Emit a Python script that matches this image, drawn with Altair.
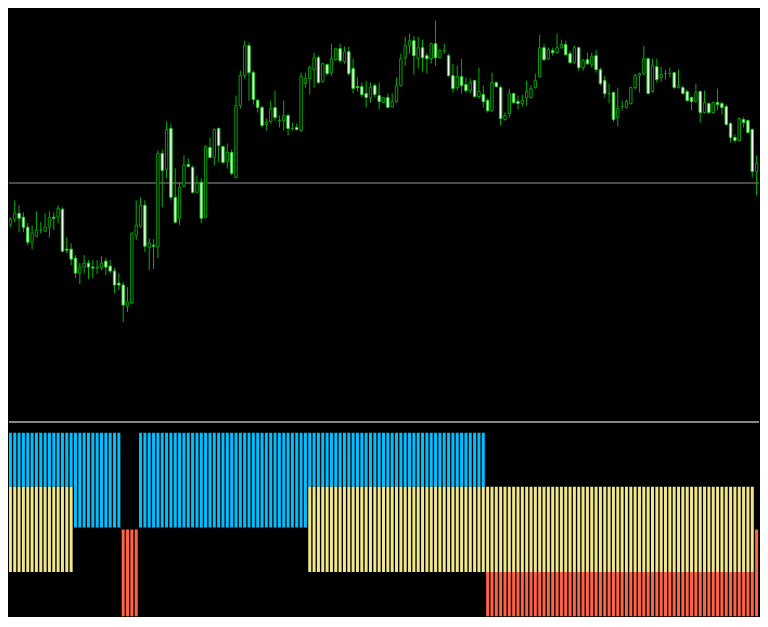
import altair as alt
import pandas as pd

# ---------------- price candles (one entry per bar) ----------------
OPEN = [1.0753, 1.0770, 1.0776, 1.0781, 1.0787, 1.0783, 1.0773, 1.0758, 1.0764, 1.0770,
        1.0769, 1.0773, 1.0783, 1.0783, 1.0791, 1.0751, 1.0751, 1.0742, 1.0727, 1.0733,
        1.0737, 1.0733, 1.0732, 1.0732, 1.0739, 1.0734, 1.0729, 1.0717, 1.0715, 1.0694,
        1.0697, 1.0765, 1.0774, 1.0795, 1.0753, 1.0755, 1.0753, 1.0847, 1.0831, 1.0872,
        1.0803, 1.0782, 1.0814, 1.0836, 1.0833, 1.0808, 1.0818, 1.0783, 1.0853, 1.0843,
        1.0872, 1.0854, 1.0839, 1.0848, 1.0823, 1.0895, 1.0925, 1.0955, 1.0928, 1.0900,
        1.0893, 1.0876, 1.0879, 1.0893, 1.0880, 1.0880, 1.0885, 1.0872, 1.0873, 1.0870,
        1.0917, 1.0922, 1.0931, 1.0943, 1.0919, 1.0936, 1.0928, 1.0941, 1.0952, 1.0939,
        1.0949, 1.0932, 1.0914, 1.0914, 1.0907, 1.0903, 1.0915, 1.0905, 1.0898, 1.0903,
        1.0894, 1.0899, 1.0915, 1.0943, 1.0955, 1.0960, 1.0942, 1.0953, 1.0945, 1.0942,
        1.0957, 1.0943, 1.0950, 1.0945, 1.0925, 1.0913, 1.0924, 1.0916, 1.0910, 1.0920,
        1.0904, 1.0906, 1.0900, 1.0890, 1.0918, 1.0913, 1.0881, 1.0887, 1.0907, 1.0899,
        1.0897, 1.0903, 1.0903, 1.0913, 1.0924, 1.0953, 1.0942, 1.0950, 1.0948, 1.0953,
        1.0956, 1.0947, 1.0938, 1.0953, 1.0933, 1.0941, 1.0936, 1.0945, 1.0931, 1.0920,
        1.0907, 1.0908, 1.0883, 1.0894, 1.0893, 1.0897, 1.0913, 1.0925, 1.0927, 1.0942,
        1.0909, 1.0934, 1.0923, 1.0927, 1.0927, 1.0928, 1.0913, 1.0913, 1.0909, 1.0903,
        1.0899, 1.0909, 1.0888, 1.0897, 1.0888, 1.0898, 1.0897, 1.0894, 1.0877, 1.0863,
        1.0860, 1.0881, 1.0880, 1.0871, 1.0829, 1.0837, 1.0808]
HIGH = [1.0774, 1.0782, 1.0783, 1.0800, 1.0795, 1.0788, 1.0777, 1.0775, 1.0789, 1.0778,
        1.0787, 1.0789, 1.0788, 1.0795, 1.0793, 1.0763, 1.0757, 1.0745, 1.0737, 1.0745,
        1.0740, 1.0740, 1.0740, 1.0744, 1.0742, 1.0740, 1.0732, 1.0727, 1.0718, 1.0713,
        1.0768, 1.0800, 1.0803, 1.0800, 1.0762, 1.0761, 1.0850, 1.0851, 1.0879, 1.0877,
        1.0832, 1.0818, 1.0845, 1.0842, 1.0835, 1.0825, 1.0822, 1.0855, 1.0863, 1.0872,
        1.0873, 1.0855, 1.0857, 1.0851, 1.0905, 1.0930, 1.0960, 1.0958, 1.0930, 1.0902,
        1.0895, 1.0882, 1.0900, 1.0910, 1.0885, 1.0900, 1.0887, 1.0878, 1.0877, 1.0928,
        1.0928, 1.0935, 1.0948, 1.0945, 1.0938, 1.0937, 1.0957, 1.0953, 1.0957, 1.0954,
        1.0954, 1.0942, 1.0923, 1.0918, 1.0920, 1.0918, 1.0917, 1.0918, 1.0903, 1.0907,
        1.0907, 1.0923, 1.0947, 1.0964, 1.0967, 1.0965, 1.0964, 1.0961, 1.0948, 1.0958,
        1.0980, 1.0952, 1.0957, 1.0947, 1.0937, 1.0935, 1.0942, 1.0923, 1.0922, 1.0921,
        1.0933, 1.0915, 1.0902, 1.0928, 1.0919, 1.0915, 1.0888, 1.0912, 1.0908, 1.0905,
        1.0906, 1.0920, 1.0915, 1.0927, 1.0966, 1.0957, 1.0953, 1.0953, 1.0967, 1.0961,
        1.0960, 1.0950, 1.0955, 1.0954, 1.0942, 1.0948, 1.0948, 1.0951, 1.0933, 1.0925,
        1.0917, 1.0909, 1.0913, 1.0900, 1.0901, 1.0914, 1.0927, 1.0928, 1.0955, 1.0943,
        1.0942, 1.0942, 1.0934, 1.0931, 1.0933, 1.0929, 1.0931, 1.0915, 1.0911, 1.0904,
        1.0917, 1.0910, 1.0910, 1.0898, 1.0899, 1.0912, 1.0899, 1.0896, 1.0878, 1.0866,
        1.0883, 1.0883, 1.0881, 1.0872, 1.0845, 1.0838, 1.0820]
LOW = [1.0750, 1.0767, 1.0773, 1.0778, 1.0768, 1.0768, 1.0755, 1.0751, 1.0763, 1.0767,
       1.0768, 1.0763, 1.0770, 1.0777, 1.0748, 1.0747, 1.0735, 1.0722, 1.0716, 1.0727,
       1.0721, 1.0722, 1.0726, 1.0730, 1.0725, 1.0727, 1.0707, 1.0710, 1.0678, 1.0688,
       1.0696, 1.0760, 1.0772, 1.0748, 1.0730, 1.0731, 1.0742, 1.0793, 1.0822, 1.0800,
       1.0777, 1.0775, 1.0813, 1.0833, 1.0807, 1.0807, 1.0777, 1.0782, 1.0842, 1.0835,
       1.0838, 1.0837, 1.0832, 1.0825, 1.0822, 1.0892, 1.0922, 1.0900, 1.0896, 1.0888,
       1.0873, 1.0870, 1.0877, 1.0880, 1.0873, 1.0870, 1.0865, 1.0870, 1.0870, 1.0869,
       1.0913, 1.0906, 1.0913, 1.0917, 1.0918, 1.0925, 1.0925, 1.0940, 1.0938, 1.0937,
       1.0925, 1.0907, 1.0909, 1.0903, 1.0893, 1.0898, 1.0903, 1.0891, 1.0898, 1.0893,
       1.0893, 1.0898, 1.0914, 1.0935, 1.0947, 1.0926, 1.0932, 1.0929, 1.0927, 1.0937,
       1.0935, 1.0942, 1.0947, 1.0924, 1.0908, 1.0910, 1.0907, 1.0908, 1.0907, 1.0903,
       1.0902, 1.0893, 1.0888, 1.0889, 1.0913, 1.0875, 1.0880, 1.0883, 1.0897, 1.0891,
       1.0894, 1.0895, 1.0902, 1.0912, 1.0923, 1.0940, 1.0941, 1.0945, 1.0947, 1.0952,
       1.0945, 1.0937, 1.0937, 1.0930, 1.0930, 1.0936, 1.0933, 1.0928, 1.0915, 1.0903,
       1.0897, 1.0879, 1.0874, 1.0890, 1.0892, 1.0896, 1.0911, 1.0908, 1.0925, 1.0906,
       1.0908, 1.0918, 1.0919, 1.0921, 1.0923, 1.0912, 1.0912, 1.0906, 1.0899, 1.0890,
       1.0898, 1.0878, 1.0887, 1.0887, 1.0887, 1.0890, 1.0886, 1.0875, 1.0858, 1.0858,
       1.0859, 1.0873, 1.0867, 1.0823, 1.0805, 1.0807, 1.0807]
CLOSE = [1.0772, 1.0775, 1.0781, 1.0787, 1.0782, 1.0773, 1.0758, 1.0767, 1.0770, 1.0770,
         1.0773, 1.0783, 1.0782, 1.0792, 1.0749, 1.0750, 1.0741, 1.0727, 1.0733, 1.0737,
         1.0733, 1.0732, 1.0733, 1.0737, 1.0733, 1.0729, 1.0715, 1.0715, 1.0695, 1.0698,
         1.0767, 1.0775, 1.0795, 1.0754, 1.0757, 1.0754, 1.0847, 1.0830, 1.0871, 1.0803,
         1.0778, 1.0813, 1.0835, 1.0834, 1.0808, 1.0817, 1.0782, 1.0854, 1.0843, 1.0871,
         1.0855, 1.0838, 1.0848, 1.0827, 1.0895, 1.0925, 1.0955, 1.0928, 1.0901, 1.0893,
         1.0875, 1.0878, 1.0892, 1.0883, 1.0880, 1.0885, 1.0872, 1.0872, 1.0871, 1.0924,
         1.0922, 1.0933, 1.0943, 1.0918, 1.0937, 1.0927, 1.0942, 1.0952, 1.0940, 1.0949,
         1.0927, 1.0912, 1.0913, 1.0906, 1.0903, 1.0913, 1.0906, 1.0899, 1.0903, 1.0893,
         1.0899, 1.0915, 1.0942, 1.0955, 1.0960, 1.0945, 1.0953, 1.0943, 1.0942, 1.0957,
         1.0943, 1.0950, 1.0950, 1.0925, 1.0912, 1.0924, 1.0915, 1.0910, 1.0918, 1.0904,
         1.0909, 1.0899, 1.0890, 1.0918, 1.0914, 1.0882, 1.0885, 1.0907, 1.0898, 1.0897,
         1.0900, 1.0909, 1.0912, 1.0920, 1.0953, 1.0941, 1.0951, 1.0948, 1.0953, 1.0956,
         1.0946, 1.0938, 1.0953, 1.0933, 1.0940, 1.0937, 1.0944, 1.0931, 1.0917, 1.0907,
         1.0907, 1.0881, 1.0892, 1.0894, 1.0899, 1.0913, 1.0925, 1.0927, 1.0942, 1.0907,
         1.0935, 1.0921, 1.0926, 1.0927, 1.0927, 1.0913, 1.0915, 1.0907, 1.0900, 1.0899,
         1.0908, 1.0888, 1.0898, 1.0888, 1.0898, 1.0896, 1.0893, 1.0876, 1.0863, 1.0860,
         1.0882, 1.0878, 1.0868, 1.0829, 1.0837, 1.0812, 1.0817]

LEVEL_LINE = 1.0817  # horizontal price level

# ---------------- indicator sub-window ----------------
BLUE_RUNS = [(0, 27), (32, 111)]
RED_RUNS = [(28, 31), (112, 176)]
YELLOW_RUNS = [(0, 16), (71, 173)]
BLUE_RANGE = (1.02, 2.0)
YELLOW_RANGE = (0.56, 1.44)
RED_RANGE = (0.0, 1.0)

N = len(OPEN)
candles = pd.DataFrame({"i": list(range(N)), "open": OPEN, "high": HIGH,
                        "low": LOW, "close": CLOSE})
candles["bear"] = candles["close"] < candles["open"]


def in_runs(i, runs):
    return any(a <= i <= b for a, b in runs)


rows = []
for i in range(N):
    yel = in_runs(i, YELLOW_RUNS)
    if in_runs(i, BLUE_RUNS):
        lo = YELLOW_RANGE[1] if yel else BLUE_RANGE[0]
        rows.append({"i": i, "lo": lo, "hi": BLUE_RANGE[1], "s": "blue"})
    if in_runs(i, RED_RUNS):
        hi = YELLOW_RANGE[0] if yel else RED_RANGE[1]
        rows.append({"i": i, "lo": RED_RANGE[0], "hi": hi, "s": "red"})
    if yel:
        rows.append({"i": i, "lo": YELLOW_RANGE[0], "hi": YELLOW_RANGE[1], "s": "yellow"})
ind = pd.DataFrame(rows)

# page: 8px body margin all round, so the chart must stay within the window
W = 752
H_TOP = 413
H_BOT = 196

XS = alt.Scale(domain=[1.6782, 174.552], nice=False, zero=False, padding=0)
YS = alt.Scale(domain=[1.0579, 1.0992], nice=False, zero=False, padding=0)
VS = alt.Scale(domain=[0.1031, 2.1237], nice=False, zero=False, padding=0)

x_enc = alt.X("i:Q", scale=XS, axis=None)

hline = alt.Chart(candles).mark_rule(color="#4a4a4a", strokeWidth=1.5).encode(
    y=alt.datum(LEVEL_LINE, scale=YS, axis=None),
    x=alt.value(0), x2=alt.value(W))

wicks = alt.Chart(candles).mark_rule(color="#00b400", strokeWidth=1, clip=True).encode(
    x=x_enc,
    y=alt.Y("low:Q", scale=YS, axis=None),
    y2="high:Q")

bull = alt.Chart(candles).transform_filter("!datum.bear").mark_bar(
    width=2.4, fill="black", stroke="#00a000", strokeWidth=1, clip=True).encode(
    x=x_enc,
    y=alt.Y("open:Q", scale=YS, axis=None),
    y2="close:Q")

bear = alt.Chart(candles).transform_filter("datum.bear").mark_bar(
    width=2.4, fill="white", stroke="#20d020", strokeWidth=1, clip=True).encode(
    x=x_enc,
    y=alt.Y("open:Q", scale=YS, axis=None),
    y2="close:Q")

top = alt.layer(hline, wicks, bull, bear).properties(width=W, height=H_TOP)

COLORS = {"blue": "#00BFFF", "red": "#FF6347", "yellow": "#F0E68C"}


def hist(name):
    return alt.Chart(ind).transform_filter(f"datum.s == '{name}'").mark_bar(
        width=3, color=COLORS[name], clip=True).encode(
        x=x_enc,
        y=alt.Y("lo:Q", scale=VS, axis=None),
        y2="hi:Q")


sep = alt.Chart(ind).mark_rule(color="#8a8a8a", strokeWidth=2).encode(
    y=alt.value(1.3), x=alt.value(0), x2=alt.value(W))

bottom = alt.layer(hist("blue"), hist("red"), hist("yellow"), sep).properties(
    width=W, height=H_BOT)

chart = alt.vconcat(top, bottom, spacing=0).resolve_scale(
    x="independent", y="independent").properties(
    background="black", padding=0).configure_view(stroke=None)

chart.save("out.html", embed_options={"renderer": "svg", "actions": False})
